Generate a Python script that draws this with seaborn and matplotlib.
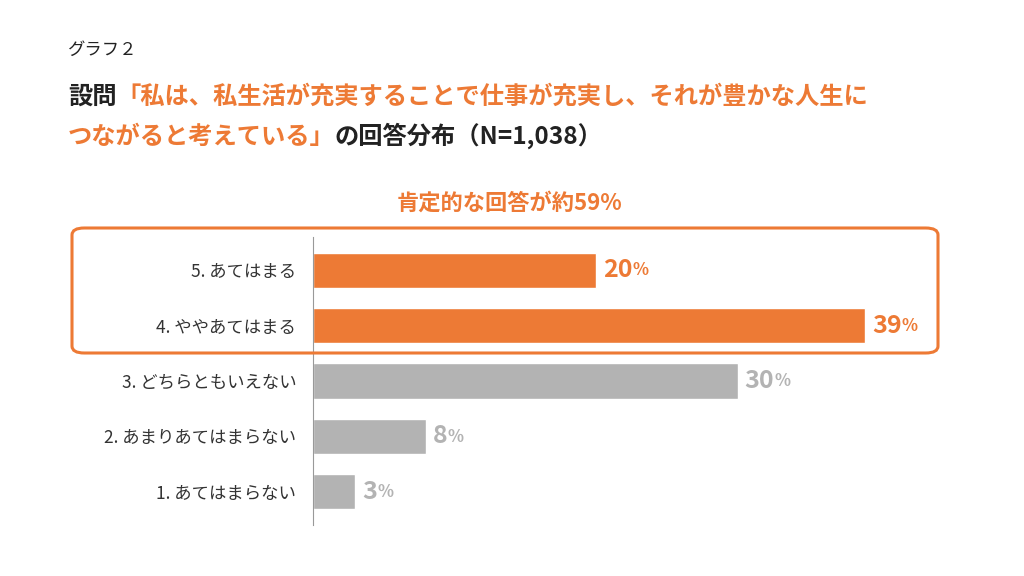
import seaborn as sns
import matplotlib.pyplot as plt
from matplotlib.patches import FancyBboxPatch
import pandas as pd

labels = ["5. あてはまる", "4. ややあてはまる", "3. どちらともいえない", "2. あまりあてはまらない", "1. あてはまらない"]
values = [20, 39, 30, 8, 3]
positive = [True, True, False, False, False]

ORANGE = "#ED7A35"
GRAY = "#B3B3B3"

sns.set_style("white")
plt.rcParams['font.family'] = ['Noto Sans CJK JP', 'DejaVu Sans']

df = pd.DataFrame({"label": labels, "value": values})
colors = [ORANGE if p else GRAY for p in positive]

fig = plt.figure(figsize=(10.24, 5.76), dpi=100)
ax = fig.add_axes([313 / 1024, 1 - 525 / 576, 650 / 1024, 288 / 576])
sns.barplot(data=df, y="label", x="value", hue="label", palette=colors,
            legend=False, width=0.64, saturation=1, ax=ax)
ax.set_xlim(0, 39 * 650 / 552)
ax.set_ylim(4.6, -0.6)
ax.set_xlabel("")
ax.set_ylabel("")
ax.set_xticks([])
for s in ["top", "right", "bottom"]:
    ax.spines[s].set_visible(False)
ax.spines["left"].set_color("#999999")
ax.tick_params(axis="y", length=0, pad=12, labelsize=12.5, labelcolor="#333333")

for i, (v, p) in enumerate(zip(values, positive)):
    c = ORANGE if p else GRAY
    t = ax.text(v + 0.5, i, str(v), color=c, fontsize=18, fontweight="bold",
                va="center", ha="left")
    ax.annotate("%", xy=(1, 0.12), xycoords=t, color=c, fontsize=12,
                fontweight="bold", va="bottom", ha="left")

# rounded highlight box
box = FancyBboxPatch((72 / 1024, 1 - 353 / 576), 866 / 1024, 125 / 576,
                     boxstyle="round,pad=0,rounding_size=0.012",
                     transform=fig.transFigure, fill=False, ec=ORANGE, lw=2.2)
fig.patches.append(box)

# titles
fig.text(68 / 1024, 1 - 50 / 576, "グラフ２", fontsize=12.5, va="center", color="#222222")
t1 = fig.text(68 / 1024, 1 - 97 / 576, "設問", fontsize=17.5, fontweight="bold",
              va="center", color="#222222")
ax.annotate("「私は、私生活が充実することで仕事が充実し、それが豊かな人生に",
            xy=(1, 0), xycoords=t1, fontsize=17.5, fontweight="bold", color=ORANGE,
            va="bottom", ha="left")
t2 = fig.text(68 / 1024, 1 - 137 / 576, "つながると考えている」", fontsize=17.5,
              fontweight="bold", va="center", color=ORANGE)
ax.annotate("の回答分布（N=1,038）", xy=(1, 0), xycoords=t2, fontsize=17.5,
            fontweight="bold", color="#222222", va="bottom", ha="left")

fig.text(510 / 1024, 1 - 203 / 576, "肯定的な回答が約59%", fontsize=16,
         fontweight="bold", color=ORANGE, ha="center", va="center")

fig.savefig("out.png", dpi=100)
